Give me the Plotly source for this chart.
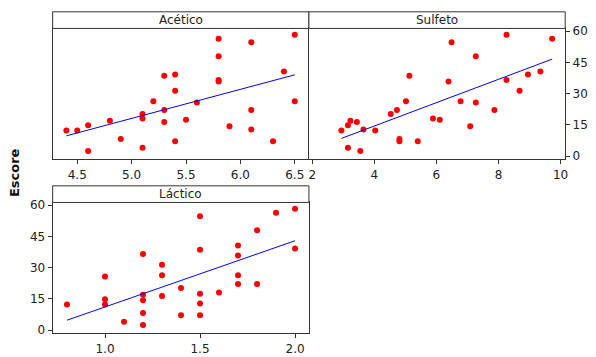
import numpy as np
import plotly.graph_objects as go

# Escore de sabor e as três variáveis químicas (uma observação por posição)
escore = [58.3, 56.3, 54.7, 48.0, 40.6, 39.2, 38.6, 36.6, 35.9, 31.4,
          26.4, 26.4, 25.8, 22.2, 22.2, 20.2, 18.1, 17.5, 17.0, 16.4,
          14.8, 14.4, 12.8, 12.3, 12.3, 8.3, 7.2, 7.2, 4.1, 2.5]
acetico = [6.5, 5.8, 6.1, 5.8, 6.4, 5.4, 5.3, 5.8, 5.8, 5.4,
           5.2, 6.5, 5.6, 5.3, 6.1, 5.1, 5.1, 5.5, 4.8, 5.3,
           4.6, 5.9, 6.1, 4.4, 4.5, 4.9, 5.4, 6.3, 5.1, 4.6]
sulfeto = [8.26, 9.73, 6.49, 7.27, 9.35, 8.95, 5.13, 8.26, 6.39, 8.68,
           5.02, 6.78, 7.27, 4.73, 7.87, 4.53, 5.89, 6.11, 3.23, 3.44,
           3.15, 7.09, 3.65, 2.94, 4.03, 4.81, 4.81, 5.40, 3.15, 3.55]
lactico = [2.0, 1.9, 1.5, 1.8, 1.7, 2.0, 1.5, 1.2, 1.7, 1.3,
           1.3, 1.7, 1.0, 1.7, 1.8, 1.4, 1.6, 1.5, 1.2, 1.3,
           1.0, 1.2, 1.5, 0.8, 1.0, 1.2, 1.4, 1.5, 1.1, 1.2]

titulos = ["Acético", "Sulfeto", "Láctico"]
ticks_acetico = [4.5, 5.0, 5.5, 6.0, 6.5]
ticks_sulfeto = [2, 4, 6, 8, 10]
ticks_lactico = [1.0, 1.5, 2.0]
ticks_escore = [0, 15, 30, 45, 60]

W, H = 596, 357
FONT = "DejaVu Sans"
FRAME = "#333333"
TXT = "#222222"


def fx(p):
    return p / W


def fy(p):
    return 1 - p / H


fig = go.Figure()

paineis = [(acetico, "x", "y"), (sulfeto, "x2", "y2"), (lactico, "x3", "y3")]
for xs, xa, ya in paineis:
    fig.add_trace(go.Scatter(
        x=xs, y=escore, mode="markers",
        marker=dict(color="#ff0000", size=6),
        xaxis=xa, yaxis=ya, showlegend=False, hoverinfo="skip"))
    b, a = np.polyfit(xs, escore, 1)
    xl = [min(xs), max(xs)]
    fig.add_trace(go.Scatter(
        x=xl, y=[a + b * v for v in xl], mode="lines",
        line=dict(color="#0000ff", width=1),
        xaxis=xa, yaxis=ya, showlegend=False, hoverinfo="skip"))

yr = [-1.55, 61.3]
base_ax = dict(showgrid=False, zeroline=False, showline=True, linecolor=FRAME,
               linewidth=1, mirror=True, ticks="outside", ticklen=4,
               tickcolor=FRAME, tickfont=dict(family=FONT, size=12, color=TXT))

top_dom = [fy(159), fy(25)]
bot_dom = [fy(337), fy(203)]

fig.update_layout(
    width=W, height=H, margin=dict(l=0, r=0, t=0, b=0),
    paper_bgcolor="white", plot_bgcolor="white",
    xaxis=dict(base_ax, domain=[fx(52), fx(310)], range=[4.274, 6.63],
               tickvals=ticks_acetico, ticktext=[f"{v:.1f}" for v in ticks_acetico],
               anchor="y"),
    # o painel da esquerda só desenha a borda esquerda; a divisória vem do painel vizinho
    yaxis=dict(base_ax, domain=top_dom, range=yr, ticks="", showticklabels=False,
               mirror=False, anchor="x"),
    xaxis2=dict(base_ax, domain=[fx(310), fx(568)], range=[1.894, 10.15],
                tickvals=ticks_sulfeto, anchor="y2"),
    yaxis2=dict(base_ax, domain=top_dom, range=yr, side="right",
                tickvals=ticks_escore, anchor="x2"),
    xaxis3=dict(base_ax, domain=[fx(52), fx(310)], range=[0.7245, 2.073],
                tickvals=ticks_lactico, ticktext=[f"{v:.1f}" for v in ticks_lactico],
                anchor="y3"),
    yaxis3=dict(base_ax, domain=bot_dom, range=yr, tickvals=ticks_escore,
                anchor="x3"),
)

# Faixas de título acima de cada painel (em pixels da página)
faixas = [(52, 310, 8, 25), (310, 568, 8, 25), (52, 310, 186, 203)]
for (x0, x1, y0, y1), titulo in zip(faixas, titulos):
    fig.add_shape(type="rect", xref="paper", yref="paper",
                  x0=fx(x0), x1=fx(x1), y0=fy(y1), y1=fy(y0),
                  line=dict(color=FRAME, width=1), fillcolor="white", layer="above")
    fig.add_annotation(xref="paper", yref="paper", x=fx((x0 + x1) / 2),
                       y=fy((y0 + y1) / 2), text=titulo, showarrow=False,
                       xanchor="center", yanchor="middle",
                       font=dict(family=FONT, size=12, color=TXT))

fig.add_annotation(xref="paper", yref="paper", x=fx(13), y=fy(172),
                   text="<b>Escore</b>", textangle=-90, showarrow=False,
                   xanchor="center", yanchor="middle",
                   font=dict(family=FONT, size=13, color="#111111"))

fig.write_html("out.html")
